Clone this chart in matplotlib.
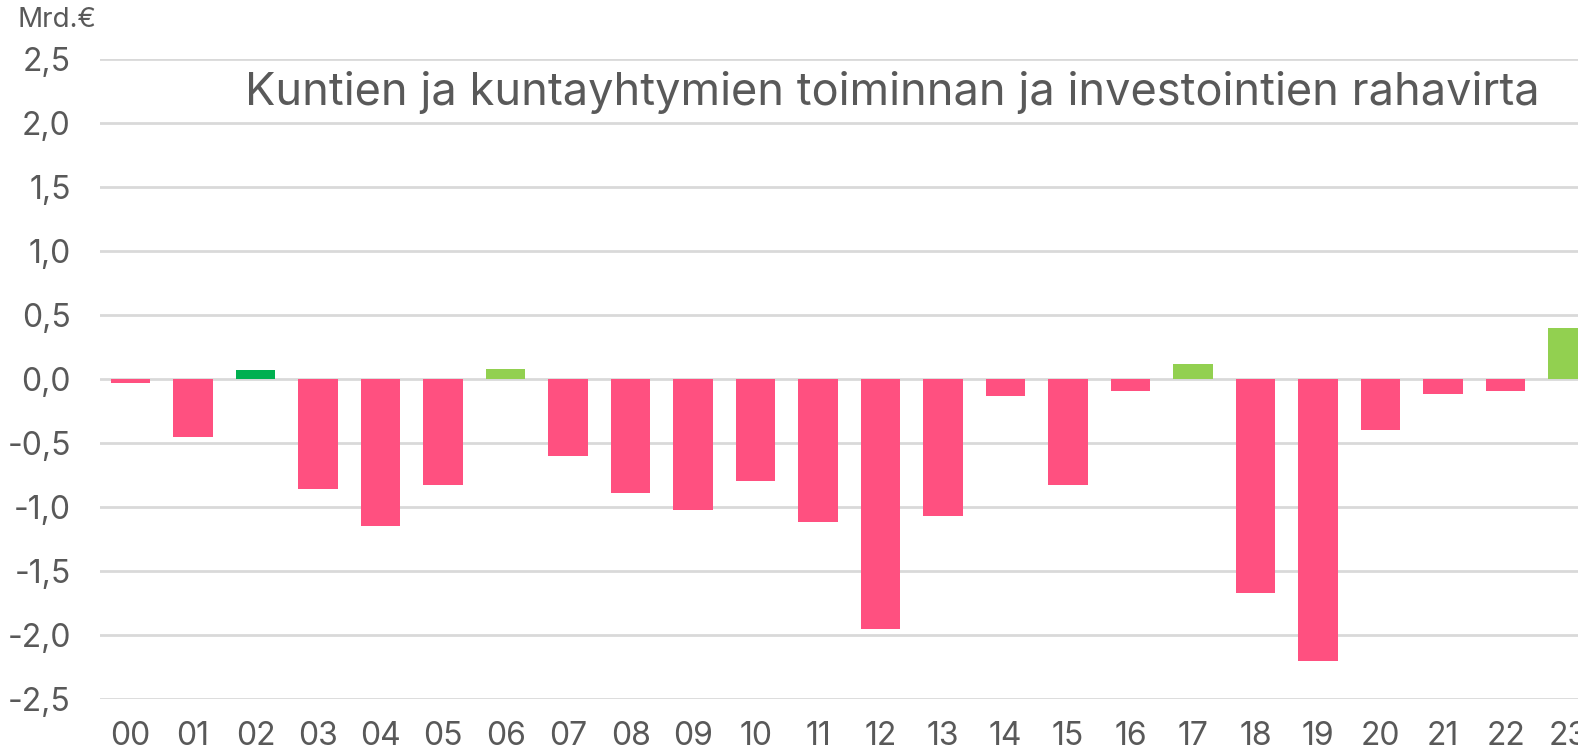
import matplotlib.pyplot as plt
from matplotlib.ticker import FuncFormatter

plt.rcParams['font.family'] = ['Inter', 'DejaVu Sans']

# Data
years = ['00', '01', '02', '03', '04', '05', '06', '07', '08', '09', '10', '11',
         '12', '13', '14', '15', '16', '17', '18', '19', '20', '21', '22', '23']
cash_flow = [-0.03, -0.45, 0.07, -0.86, -1.15, -0.83, 0.08, -0.60, -0.89, -1.02, -0.80, -1.12,
             -1.95, -1.07, -0.13, -0.83, -0.09, 0.12, -1.67, -2.20, -0.40, -0.12, -0.09, 0.40]
dark_green_years = ['02']

title = 'Kuntien ja kuntayhtymien toiminnan ja investointien rahavirta'
unit = 'Mrd.€'

PINK = '#FF5080'
DARK_GREEN = '#00B050'
LIGHT_GREEN = '#92D050'
TEXT = '#595959'
GRID = '#D9D9D9'

colors = []
for y, v in zip(years, cash_flow):
    if v < 0:
        colors.append(PINK)
    elif y in dark_green_years:
        colors.append(DARK_GREEN)
    else:
        colors.append(LIGHT_GREEN)

fig = plt.figure(figsize=(15.78, 7.53), dpi=100)
ax = fig.add_axes([100 / 1578, 1 - 699 / 753, 1 - 100 / 1578, 640 / 753])

x = list(range(len(years)))
ax.bar(x, cash_flow, width=0.63, color=colors, zorder=3)

ax.set_xlim(-0.49, 23.16)
ax.set_ylim(-2.5, 2.5)
ax.set_yticks([-2.5, -2.0, -1.5, -1.0, -0.5, 0.0, 0.5, 1.0, 1.5, 2.0, 2.5])
ax.yaxis.set_major_formatter(FuncFormatter(lambda v, p: f'{v:.1f}'.replace('.', ',')))
ax.set_xticks(x)
ax.set_xticklabels(years)

ax.grid(axis='y', color=GRID, linewidth=2, zorder=0)
for s in ax.spines.values():
    s.set_visible(False)
ax.tick_params(axis='both', length=0, labelsize=23, colors=TEXT)
ax.tick_params(axis='y', pad=21)
ax.tick_params(axis='x', pad=16)

fig.text(17 / 1578, 1 - 20 / 753, unit, fontsize=20, color=TEXT, va='center', ha='left')
fig.text(245 / 1578, 1 - 93 / 753, title, fontsize=32.5, color=TEXT, va='center', ha='left')

fig.savefig('out.png', dpi=100)
